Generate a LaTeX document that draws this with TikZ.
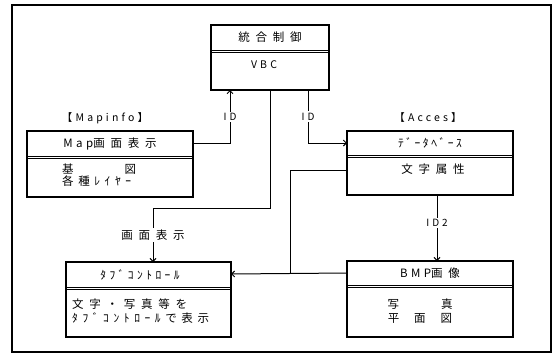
\documentclass[tikz,border=0pt]{standalone}
\usepackage{fontspec}
\setmainfont{Noto Sans CJK JP}
\newfontfamily\jpw[LetterSpace=50]{Noto Sans CJK JP}
\newfontfamily\jpm[LetterSpace=40]{Noto Sans CJK JP}
\newfontfamily\jpl[LetterSpace=30]{Noto Sans CJK JP}
\newfontfamily\jph[LetterSpace=22]{Noto Sans CJK JP}
\newfontfamily\jpn{Noto Sans CJK JP}
\usetikzlibrary{arrows.meta}
\begin{document}
\begin{tikzpicture}[x=1pt,y=-1pt,
  frame/.style={line width=1.3pt},
  box/.style={draw, line width=1.2pt, inner sep=0pt, outer sep=0pt},
  ttl/.style={inner sep=0pt, outer sep=0pt, font=\jpw\fontsize{11.5}{13}\selectfont},
  bodytxt/.style={inner sep=0pt, font=\jpw\fontsize{11.5}{13}\selectfont},
  divl/.style={line width=0.8pt},
  conn/.style={line width=1pt},
  arr/.style={conn, -{Straight Barb[length=3pt,width=6pt]}},
  lab/.style={fill=white, inner sep=1.5pt, font=\jpl\fontsize{10}{12}\selectfont},
  hdr/.style={inner sep=0pt, font=\jpl\fontsize{10.5}{12}\selectfont}
]
\useasboundingbox (0,0) rectangle (555,354);
\draw[frame] (12,5) rectangle (551,352);

% top box
\node[box, minimum width=118pt, minimum height=65pt] (top) at (270,57.5) {};
\node[ttl, minimum width=118pt, minimum height=25pt] (topT) at (270,37.5) {統合制御};
\draw[divl] (top.west |- topT.south) -- (top.east |- topT.south);
\draw[divl] ([yshift=-2pt]top.west |- topT.south) -- ([yshift=-2pt]top.east |- topT.south);
\node[bodytxt, font=\jpl\fontsize{10.5}{12}\selectfont] (topB) at (264,65) {VBC};

% Map box
\node[hdr] (mapH) at (105,118) {【Mapinfo】};
\node[box, minimum width=166pt, minimum height=66pt] (map) at (110,164) {};
\node[ttl, minimum width=166pt, minimum height=25pt] (mapT) at (110,143.5) {{\jpl Map}画面表示};
\draw[divl] (map.west |- mapT.south) -- (map.east |- mapT.south);
\draw[divl] ([yshift=-2pt]map.west |- mapT.south) -- ([yshift=-2pt]map.east |- mapT.south);
\node[bodytxt, anchor=west, font=\jpn\fontsize{11.5}{13}\selectfont] (mapB1) at (62,169) {基\hspace{51pt}図};
\node[bodytxt, anchor=west, font=\jpm\fontsize{11.5}{13}\selectfont] (mapB2) at (62,181) {各種ﾚｲﾔｰ};

% DB box
\node[hdr] (dbH) at (428,118) {【Acces】};
\node[box, minimum width=166pt, minimum height=64pt] (db) at (430,163) {};
\node[ttl, minimum width=166pt, minimum height=24pt, font=\jph\fontsize{11.5}{13}\selectfont] (dbT) at (430,143) {ﾃﾞｰﾀﾍﾞｰｽ};
\draw[divl] (db.west |- dbT.south) -- (db.east |- dbT.south);
\draw[divl] ([yshift=-2pt]db.west |- dbT.south) -- ([yshift=-2pt]db.east |- dbT.south);
\node[bodytxt] (dbB) at (433,169) {文字属性};

% Tab box
\node[box, minimum width=165pt, minimum height=75pt] (tab) at (148.5,299.5) {};
\node[ttl, minimum width=165pt, minimum height=25pt, font=\jpl\fontsize{11.5}{13}\selectfont] (tabT) at (140,274.5) {ﾀﾌﾞｺﾝﾄﾛｰﾙ};
\draw[divl] (tab.west |- tabT.south) -- (tab.east |- tabT.south);
\draw[divl] ([yshift=-2pt]tab.west |- tabT.south) -- ([yshift=-2pt]tab.east |- tabT.south);
\node[bodytxt, anchor=west] (tabB1) at (72,304) {文字・写真等を};
\node[bodytxt, anchor=west, font=\jpm\fontsize{11.5}{13}\selectfont] (tabB2) at (72,318) {ﾀﾌﾞｺﾝﾄﾛｰﾙで表示};

% BMP box
\node[box, minimum width=166pt, minimum height=76pt] (bmp) at (430,299) {};
\node[ttl, minimum width=166pt, minimum height=24pt] (bmpT) at (430,273) {{\jpl BMP}画像};
\draw[divl] (bmp.west |- bmpT.south) -- (bmp.east |- bmpT.south);
\draw[divl] ([yshift=-2pt]bmp.west |- bmpT.south) -- ([yshift=-2pt]bmp.east |- bmpT.south);
\node[bodytxt, font=\jpn\fontsize{11.5}{13}\selectfont] (bmpB1) at (420,304) {写\hspace{42pt}真};
\node[bodytxt, font=\jpn\fontsize{11.5}{13}\selectfont] (bmpB2) at (420,318) {平\hspace{15pt}面\hspace{15pt}図};

% connectors
\coordinate (topIn) at (230,90);
\coordinate (topOut) at (308,90);
\coordinate (tabIn) at (153,262);
\coordinate (tabSide) at (231,274);
\coordinate (dbOut) at (437,195);
\coordinate (bmpIn) at (437,261);
\coordinate (dbSide) at (347,170);
\coordinate (join) at (290,274);

\draw[arr] (mapT.east) -| node[lab, pos=0.75] {ID} (topIn);
\draw[arr] (topOut) |- node[lab, pos=0.25] {ID} (dbT.west);
\draw[arr] (top.south) -- (270,208) -| node[lab, pos=0.75, font=\jpw\fontsize{11.5}{13}\selectfont] {画面表示} (tabIn);
\draw[arr] (dbOut) -- node[lab, pos=0.42] {ID2} (bmpIn);
\draw[arr] (bmpT.west) -- (tabSide);
\draw[conn] (dbSide) -| (join);
\end{tikzpicture}
\end{document}
